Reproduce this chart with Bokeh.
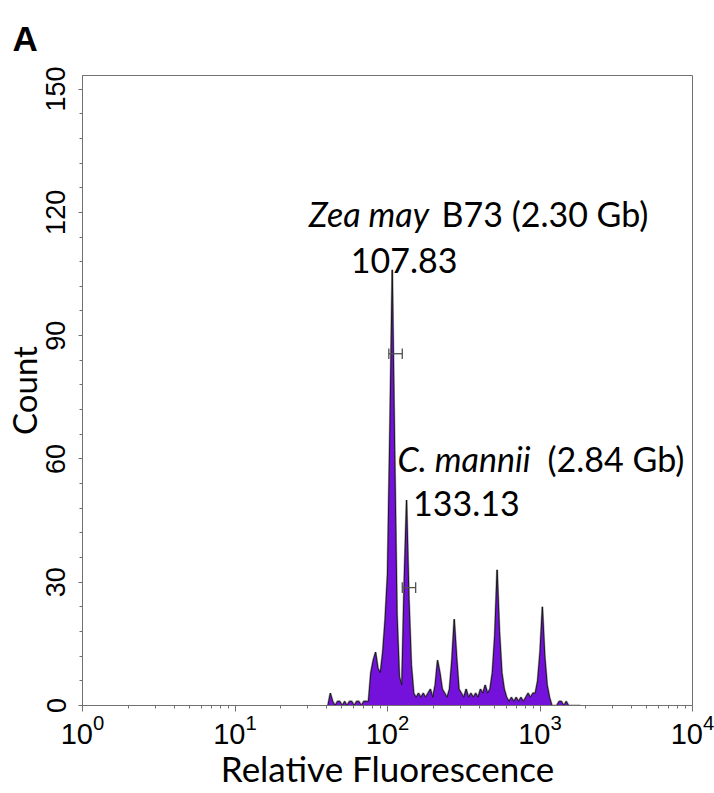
import numpy as np
from bokeh.plotting import figure
from bokeh.models import Label, FixedTicker, Range1d
from bokeh.embed import file_html
from bokeh.resources import INLINE

# ---- data (256-channel log histogram, 64 channels per decade) ----
channels = list(range(103, 210))
counts = [0, 3, 1, 0, 1, 1, 0, 1, 0, 1,   # 103-112
          1, 0, 1, 1, 0, 1, 1, 1, 8, 11,   # 113-122
          13, 9, 8, 13, 21, 32, 67, 106, 62, 22,   # 123-132
          7, 5, 30, 50, 26, 10, 3, 2, 3, 2,   # 133-142
          3, 2, 3, 4, 2, 5, 11, 8, 4, 3,   # 143-152
          2, 4, 11, 21, 12, 4, 3, 2, 4, 2,   # 153-162
          3, 2, 3, 2, 4, 3, 5, 3, 4, 8,   # 163-172
          17, 33, 18, 8, 4, 2, 1, 2, 1, 2,   # 173-182
          1, 2, 1, 2, 3, 2, 3, 3, 6, 13,   # 183-192
          24, 12, 5, 2, 0, 0, 0, 1, 1, 0,   # 193-202
          1, 0, 0, 0, 0, 0, 0]   # 203-209

# gates (error-bar style markers): left, right, height
gate_left = [102.0, 125.0]
gate_right = [125.0, 153.0]
gate_y = [85.6, 28.7]

# peak annotations
peak_species = ["Zea may", "C. mannii"]
peak_rest = ["B73 (2.30 Gb)", "(2.84 Gb)"]
peak_means = ["107.83", "133.13"]

x_ticks = [1, 10, 100, 1000, 10000]
y_ticks = [0, 30, 60, 90, 120, 150]

fluor = 10 ** (np.array(channels) * 4.0 / 256.0)

p = figure(width=714, height=793, x_axis_type="log",
           x_range=Range1d(1, 1e4), y_range=Range1d(0, 153.3),
           output_backend="svg", toolbar_location=None,
           min_border_left=80, min_border_right=22,
           min_border_top=75, min_border_bottom=88)

p.xgrid.visible = False
p.ygrid.visible = False
p.outline_line_color = "#707070"
p.outline_line_width = 1
p.background_fill_color = "white"
p.border_fill_color = "white"

# panel letter as title
p.title.text = "A"
p.title.text_font = "Liberation Sans"
p.title.text_font_style = "bold"
p.title.text_font_size = "35px"
p.title.text_color = "black"
p.title.align = "left"
p.title.vertical_align = "top"
p.title.offset = -70
p.title.standoff = 32

# histogram
p.line(fluor, counts, line_color="#a0a0a0", line_width=2.2)
p.varea(x=fluor, y1=np.zeros(len(counts)), y2=counts, fill_color="#7412DB")
p.line(fluor, counts, line_color="#111111", line_width=0.9)

# gates
cap = 1.3
gate_color = "#505050"
p.segment(x0=gate_left, y0=gate_y, x1=gate_right, y1=gate_y, line_color=gate_color, line_width=1.3)
p.segment(x0=gate_left, y0=[g - cap for g in gate_y], x1=gate_left, y1=[g + cap for g in gate_y],
          line_color=gate_color, line_width=1.3)
p.segment(x0=gate_right, y0=[g - cap for g in gate_y], x1=gate_right, y1=[g + cap for g in gate_y],
          line_color=gate_color, line_width=1.3)

# axes
minor_x = [m * d for d in [1, 10, 100, 1000] for m in range(2, 10)]
p.xaxis.ticker = FixedTicker(ticks=x_ticks, minor_ticks=minor_x)
p.yaxis.ticker = FixedTicker(ticks=y_ticks, minor_ticks=list(range(0, 151, 6)))

for ax in (p.xaxis[0], p.yaxis[0]):
    ax.axis_line_color = "#707070"
    ax.major_tick_line_color = "#707070"
    ax.minor_tick_line_color = "#707070"
    ax.major_tick_in = 0
    ax.minor_tick_in = 0
    ax.major_label_text_font = "Liberation Sans"
    ax.major_label_text_color = "black"
    ax.axis_label_text_font = "Lato"
    ax.axis_label_text_font_style = "normal"
    ax.axis_label_text_color = "black"

p.xaxis.major_label_text_font_size = "29px"
p.yaxis.major_label_text_font_size = "27px"
p.xaxis.major_tick_out = 6
p.xaxis.minor_tick_out = 3
p.yaxis.major_tick_out = 4
p.yaxis.minor_tick_out = 3
p.yaxis.major_label_orientation = "vertical"
p.yaxis.major_label_standoff = 13
p.xaxis.major_label_standoff = 2

p.xaxis.axis_label = "Relative Fluorescence"
p.xaxis.axis_label_text_font_size = "35px"
p.xaxis.axis_label_standoff = 0
p.yaxis.axis_label = "Count"
p.yaxis.axis_label_text_font_size = "33px"
p.yaxis.axis_label_standoff = 0

# annotations
def lbl(x, y, t, style="normal"):
    p.add_layout(Label(x=x, y=y, text=t, text_font="Lato", text_font_size="34px",
                       text_font_style=style, text_color="black",
                       text_baseline="alphabetic"))

lbl(30.5, 119.6, peak_species[0], "italic")
lbl(226.0, 119.6, peak_rest[0])
lbl(57.5, 108.4, peak_means[0])
lbl(116.5, 60.0, peak_species[1], "italic")
lbl(1120.0, 60.0, peak_rest[1])
lbl(147.0, 49.05, peak_means[1])

open("out.html", "w").write(file_html(p, INLINE))
